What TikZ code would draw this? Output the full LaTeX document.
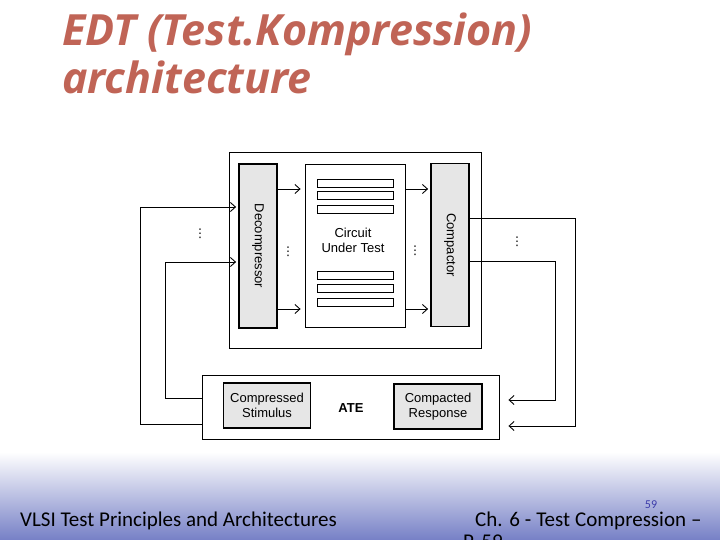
\documentclass[tikz,border=0pt]{standalone}
\usepackage{fontspec}
\setmainfont{Liberation Sans}
\newfontfamily\titlefont{Open Sans}
\newfontfamily\footfont{Carlito}
\newfontfamily\symfont{DejaVu Sans}
\usetikzlibrary{arrows.meta,calc}
\definecolor{titlecol}{RGB}{192,100,86}
\definecolor{boxgray}{RGB}{230,230,230}
\definecolor{footblue}{RGB}{118,128,198}
\definecolor{numblue}{RGB}{60,60,170}
\begin{document}
\begin{tikzpicture}[x=1pt,y=-1pt,
  frame/.style={draw=black, line width=0.9pt, inner sep=0pt},
  blockbox/.style={draw=black, line width=1.8pt, fill=boxgray, inner sep=0pt},
  cutbox/.style={draw=black, line width=1.8pt, fill=white, inner sep=0pt},
  bar/.style={draw=black, line width=0.9pt, fill=white, inner sep=0pt, minimum width=76pt, minimum height=8pt},
  wire/.style={draw=black, line width=0.9pt},
  arr/.style={wire, -{Straight Barb[length=5pt,width=9pt,line width=0.9pt]}},
  lbl/.style={font=\fontsize{13}{15}\selectfont, align=center, inner sep=0pt},
  vd/.style={font=\symfont\fontsize{12}{12}\selectfont, inner sep=0pt},
  ttl/.style={anchor=base west, inner sep=0pt, text=titlecol, font=\titlefont\bfseries\itshape\fontsize{43}{45}\selectfont},
  foot/.style={anchor=base west, inner sep=0pt, font=\footfont\fontsize{21}{23}\selectfont}
]
\useasboundingbox (0,0) rectangle (720,540);
\clip (0,0) rectangle (720,540);
\fill[white] (0,0) rectangle (720,540);
\shade[top color=white, bottom color=footblue] (0,452) rectangle (720,540);

% title
\node[ttl] (t1) at (62,46) {EDT (Test.Kompression)};
\node[ttl] (t2) at (62,94) {architecture};

% boxes
\node[frame, minimum width=252pt, minimum height=196pt] (outer) at (355,250) {};
\node[blockbox, minimum width=38pt, minimum height=164pt] (dec) at (258,246) {};
\node[lbl] (declbl) at (dec) {\rotatebox{-90}{Decompressor}};
\node[cutbox, minimum width=100pt, minimum height=163pt] (cut) at (355.5,246) {};
\foreach \y [count=\i] in {183.5,195,209,275,288,302}
  \node[bar] (bar\i) at (355,\y) {};
\node[lbl] (cutlbl) at (353,240) {Circuit\\Under Test};
\node[blockbox, minimum width=38pt, minimum height=163pt] (cmp) at (450,245) {};
\node[lbl] (cmplbl) at (cmp) {\rotatebox{-90}{Compactor}};

\node[frame, minimum width=297pt, minimum height=64pt] (ate) at (350.5,407) {};
\node[blockbox, line width=1.2pt, minimum width=87pt, minimum height=45pt, align=center, font=\fontsize{13}{15}\selectfont] (stim) at (267,405.5) {Compressed\\Stimulus};
\node[blockbox, line width=1.2pt, minimum width=88pt, minimum height=45pt, align=center, font=\fontsize{13}{15}\selectfont] (resp) at (438,406.5) {Compacted\\Response};
\node[inner sep=0pt, font=\bfseries\fontsize{13}{15}\selectfont] (atelbl) at (351,408) {ATE};

% level coordinates
\coordinate (A1) at (0,189);
\coordinate (A2) at (0,309);
\coordinate (L1) at (140,207);
\coordinate (L1b) at (140,424);
\coordinate (L2) at (165,262);
\coordinate (L2b) at (165,398);
\coordinate (R1) at (575,218);
\coordinate (R1b) at (575,426);
\coordinate (R2) at (555,261);
\coordinate (R2b) at (555,400);

% connectors
\draw[arr, shorten >=2pt] (ate.west |- L1b) -- (L1b) -- (L1) -- (dec.west |- L1);
\draw[arr, shorten >=2pt] (ate.west |- L2b) -- (L2b) -- (L2) -- (dec.west |- L2);
\draw[arr, shorten >=4pt] (dec.east |- A1) -- (cut.west |- A1);
\draw[arr, shorten >=4pt] (dec.east |- A2) -- (cut.west |- A2);
\draw[arr, shorten >=2pt] (cut.east |- A1) -- (cmp.west |- A1);
\draw[arr, shorten >=2pt] (cut.east |- A2) -- (cmp.west |- A2);
\draw[arr, shorten >=9pt] (cmp.east |- R1) -- (R1) -- (R1b) -- (ate.east |- R1b);
\draw[arr, shorten >=9pt] (cmp.east |- R2) -- (R2) -- (R2b) -- (ate.east |- R2b);

% dots
\node[vd] (d1) at (200,234) {⋮};
\node[vd] (d2) at (288,252) {⋮};
\node[vd] (d3) at (415,251) {⋮};
\node[vd] (d4) at (517,242) {⋮};

% footer
\node[foot] (f1) at (20,526) {VLSI Test Principles and Architectures};
\node[foot] (f2) at (475,526) {\spaceskip=5pt Ch. 6 - Test Compression –};
\node[foot] (f3) at (463,548) {P. 59};
\node[anchor=base, inner sep=0pt, text=numblue, font=\footfont\fontsize{12}{12}\selectfont] (num) at (651,508) {59};
\end{tikzpicture}
\end{document}
